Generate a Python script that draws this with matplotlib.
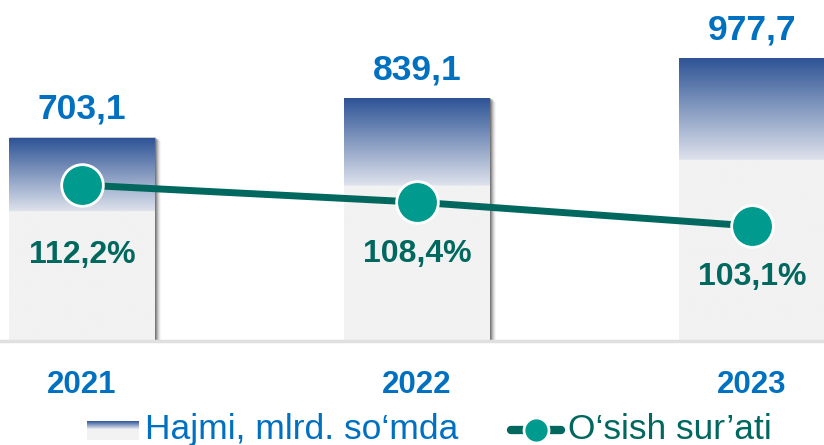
import numpy as np
import matplotlib.pyplot as plt
from matplotlib.patches import Rectangle
from matplotlib.lines import Line2D

# dane
years = ['2021', '2022', '2023']
volume = [703.1, 839.1, 977.7]
growth = [112.2, 108.4, 103.1]
volume_labels = ['703,1', '839,1', '977,7']
growth_labels = ['112,2%', '108,4%', '103,1%']

plt.rcParams['font.family'] = ['Liberation Sans', 'DejaVu Sans']

BLUE_TXT = '#0070C0'
TEAL_DARK = '#00685E'
TEAL = '#009A8E'


def gradient_img(frac=0.36, n=400):
    # wiersz 0 = gora slupka
    t = np.linspace(0, 1, n)[:, None]
    top = np.array([46, 84, 150]) / 255
    end = np.array([222, 226, 236]) / 255
    grey = np.array([242, 242, 242]) / 255
    k = np.clip(t / frac, 0, 1)
    img = top * (1 - k) + end * k
    img = np.where(t < frac, img, grey)
    return img[:, None, :]


fig = plt.figure(figsize=(8.24, 4.45), dpi=100)
ax = fig.add_axes([0, 104 / 445, 1, 341 / 445])
ax2 = ax.twinx()

x = np.arange(len(years))
w = 146 / 335
px_x = 1 / 335
px_y = 1 / 0.2885

img = gradient_img()
for i, v in zip(x, volume):
    # cien
    for k, a in zip([1, 2, 3, 4, 5, 6], [0.2, 0.17, 0.13, 0.09, 0.06, 0.04]):
        ax.add_patch(Rectangle((i - w / 2 + k * px_x, -k * px_y * 0.5), w, v + px_y * (2 - k * 0.3),
                               facecolor='black', edgecolor='none', alpha=a, zorder=1))
    ax.imshow(img, extent=[i - w / 2, i + w / 2, 0, v], aspect='auto', zorder=2,
              interpolation='bilinear')

for i, v, lab in zip(x, volume, volume_labels):
    ax.annotate(lab, (i, v), xytext=(0, 14), textcoords='offset points',
                ha='center', va='baseline', fontsize=25.5, fontweight='bold', color=BLUE_TXT)

for i, yr in zip(x, years):
    ax.text(i, -0.1525, yr, transform=ax.get_xaxis_transform(), ha='center', va='baseline',
            fontsize=22.5, fontweight='bold', color=BLUE_TXT)

ax.axhline(0, color='#E0E0E0', lw=2.5, zorder=3, clip_on=False)
ax.set_xlim(-82 / 335, 742 / 335)
ax.set_ylim(0, 341 / 0.2885)
ax.axis('off')

ax2.plot(x, growth, color=TEAL_DARK, lw=5, zorder=3)
ax2.plot(x, growth, linestyle='none', marker='o', ms=30, mfc=TEAL, mec='white', mew=2, zorder=4)
offsets = [-56, -43, -42.5]
for i, g, lab, off in zip(x, growth, growth_labels, offsets):
    ax2.annotate(lab, (i, g), xytext=(0, off), textcoords='offset points',
                 ha='center', va='baseline', fontsize=23, fontweight='bold', color=TEAL_DARK)
ax2.set_ylim(77.57, 153.27)
ax2.axis('off')

# legenda
lg = fig.add_axes([0, 0, 1, 1], zorder=10)
lg.axis('off')
lg.patch.set_alpha(0)
lg.imshow(gradient_img(frac=0.4), extent=[87, 139, 440, 421], aspect='auto', interpolation='bilinear')
lg.text(145, 439, 'Hajmi, mlrd. so‘mda', fontsize=25.5, color=BLUE_TXT, va='baseline', ha='left')
lg.add_line(Line2D([511, 561], [430, 430], color=TEAL_DARK, lw=6, solid_capstyle='round'))
lg.add_line(Line2D([536], [430], marker='o', ms=18, mfc=TEAL, mec='white', mew=2))
lg.text(568, 439, 'O‘sish sur’ati', fontsize=25.5, color=TEAL_DARK, va='baseline', ha='left')
lg.set_xlim(0, 824)
lg.set_ylim(445, 0)

fig.savefig('out.png', dpi=100)
